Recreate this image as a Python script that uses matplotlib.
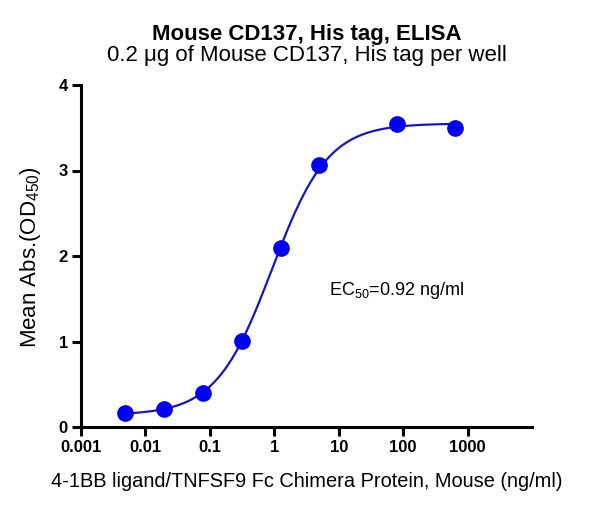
import numpy as np
import matplotlib
matplotlib.use("Agg")
import matplotlib.pyplot as plt

plt.rcParams['font.family'] = ['Liberation Sans', 'DejaVu Sans']
plt.rcParams['mathtext.fontset'] = 'custom'
plt.rcParams['mathtext.rm'] = 'Liberation Sans'
plt.rcParams['mathtext.it'] = 'Liberation Sans:italic'
plt.rcParams['mathtext.bf'] = 'Liberation Sans:bold'

conc = [0.0049, 0.0195, 0.078, 0.3125, 1.25, 5, 80, 640]
od = [0.16, 0.21, 0.40, 1.01, 2.09, 3.07, 3.54, 3.50]

# 4PL fit parameters
bottom, top, ec50, hill = 0.14, 3.55, 0.92, 1.0

xticks = [0.001, 0.01, 0.1, 1, 10, 100, 1000]
xticklabels = ["0.001", "0.01", "0.1", "1", "10", "100", "1000"]
yticks = [0, 1, 2, 3, 4]

W, H = 589, 507
fig = plt.figure(figsize=(W/100, H/100), dpi=100)
L, R, T, B = 81, 532, 85, 427
ax = fig.add_axes([L/W, 1-B/H, (R-L)/W, (B-T)/H])

xs = np.logspace(np.log10(0.0049), np.log10(640), 400)
ys = bottom + (top - bottom) / (1 + (ec50 / xs) ** hill)
ax.plot(xs, ys, color='#1515c8', lw=1.6, zorder=2)
ax.plot(conc, od, 'o', color='#0000f5', ms=11, zorder=3, clip_on=False)

ax.set_xscale('log')
ax.set_xlim(0.001, 10000)
ax.set_ylim(0, 4)
ax.set_xticks(xticks)
ax.set_xticklabels(xticklabels)
ax.xaxis.set_minor_locator(matplotlib.ticker.NullLocator())
ax.set_yticks(yticks)
for s in ['top', 'right']:
    ax.spines[s].set_visible(False)
for s in ['left', 'bottom']:
    ax.spines[s].set_linewidth(2.2)
ax.tick_params(width=2.2, length=6.5, labelsize=12, direction='out', pad=3)
for lab in ax.get_xticklabels() + ax.get_yticklabels():
    lab.set_fontweight('bold')

fig.text(31/W, 1-257.5/H, 'Mean Abs.(OD$_{450}$)', fontsize=16, rotation=90,
         ha='center', va='center')
fig.text((L+R)/2/W, 1-487/H, '4-1BB ligand/TNFSF9 Fc Chimera Protein, Mouse (ng/ml)',
         fontsize=14.4, ha='center', va='baseline')

ax.text(7.0, 1.6, 'EC$_{50}$=0.92 ng/ml', fontsize=13, va='center', ha='left')

fig.text((L+R)/2/W, 1-40/H, 'Mouse CD137, His tag, ELISA', ha='center', va='baseline',
         fontsize=16, fontweight='bold')
fig.text((L+R)/2/W, 1-61/H, '0.2 μg of Mouse CD137, His tag per well', ha='center',
         va='baseline', fontsize=16)

fig.savefig('out.png', dpi=100)
